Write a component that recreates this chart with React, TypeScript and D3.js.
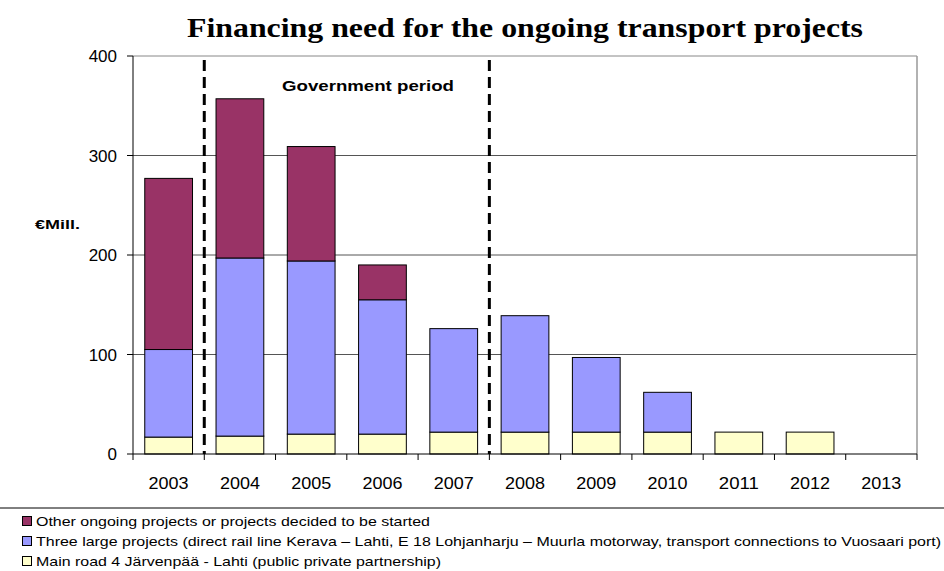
import React from "react";
import * as d3 from "d3";

const years = ["2003","2004","2005","2006","2007","2008","2009","2010","2011","2012","2013"];
const mainRoad = [17, 18, 20, 20, 22, 22, 22, 22, 22, 22, 0];
const threeLarge = [88, 179, 174, 135, 104, 117, 75, 40, 0, 0, 0];
const otherOngoing = [172, 160, 115, 35, 0, 0, 0, 0, 0, 0, 0];
const yTicks = [0, 100, 200, 300, 400];
const seriesNames = [
  "Other ongoing projects or projects decided to be started",
  "Three large projects (direct rail line Kerava – Lahti, E 18 Lohjanharju – Muurla motorway, transport connections to Vuosaari port)",
  "Main road 4 Järvenpää - Lahti (public private partnership)",
];
const periodYears = ["2004", "2008"];
const title = "Financing need for the ongoing transport projects";
const periodLabel = "Government period";
const unitLabel = "€Mill.";

const colors = { other: "#993366", three: "#9999FF", main: "#FFFFCC" };

export default function App() {
  const W = 944, H = 571;
  const left = 133, right = 917, top = 56, bottom = 454;
  const x = d3.scaleBand<string>().domain(years).range([left, right]).padding(0);
  const y = d3.scaleLinear().domain([0, 400]).range([bottom, top]);
  const bw = x.bandwidth() * 0.67;

  const stackData = years.map((yr, i) => ({ year: yr, main: mainRoad[i], three: threeLarge[i], other: otherOngoing[i] }));
  const stack = d3.stack<any>().keys(["main", "three", "other"]);
  const layers = stack(stackData);

  const font = "Arial, 'Liberation Sans', sans-serif";
  const legendColors = [colors.other, colors.three, colors.main];
  const legendLengths = [394, 905, 405];

  return (
    <svg width={W} height={H} style={{ position: "absolute", left: 0, top: 0, background: "#fff" }} fontFamily={font}>
      <text x={187} y={37} fontFamily="'Liberation Serif', 'Times New Roman', serif" fontWeight="bold" fontSize={27}
        textLength={676} lengthAdjust="spacingAndGlyphs">{title}</text>
      {/* gridlines */}
      {yTicks.filter(t => t > 0).map(t => (
        <line key={t} x1={left} x2={right} y1={y(t)} y2={y(t)} stroke={t === 400 ? "#888" : "#555"} strokeWidth={1} />
      ))}
      <line x1={right} x2={right} y1={top} y2={bottom} stroke="#999" strokeWidth={1.5} />
      {/* bars */}
      {layers.map(layer => (
        <g key={layer.key}>
          {layer.map((d, i) => {
            const h = y(d[0]) - y(d[1]);
            if (h <= 0) return null;
            return (
              <rect key={i} x={(x(years[i]) as number) + (x.bandwidth() - bw) / 2} y={y(d[1])} width={bw} height={h}
                fill={(colors as any)[layer.key]} stroke="#000" strokeWidth={1} />
            );
          })}
        </g>
      ))}
      {/* axes */}
      <line x1={left} x2={left} y1={top} y2={bottom} stroke="#000" strokeWidth={1} />
      <line x1={left} x2={right} y1={bottom} y2={bottom} stroke="#000" strokeWidth={1} />
      {yTicks.map(t => (
        <g key={t}>
          <line x1={left - 6} x2={left} y1={y(t)} y2={y(t)} stroke="#000" />
          <text x={117} y={y(t) + 6} textAnchor="end" fontSize={17}>{t}</text>
        </g>
      ))}
      {years.map(yr => (
        <g key={yr}>
          <line x1={x(yr) as number} x2={x(yr) as number} y1={bottom} y2={bottom + 6} stroke="#000" />
          <text x={(x(yr) as number) + x.bandwidth() / 2} y={489} textAnchor="middle" fontSize={17}
            textLength={40} lengthAdjust="spacingAndGlyphs">{yr}</text>
        </g>
      ))}
      <line x1={right} x2={right} y1={bottom} y2={bottom + 6} stroke="#000" />
      {/* period lines */}
      {periodYears.map(yr => (
        <line key={yr} x1={x(yr) as number} x2={x(yr) as number} y1={60} y2={bottom} stroke="#000" strokeWidth={3} strokeDasharray="11,6" />
      ))}
      <text x={282} y={91} fontWeight="bold" fontSize={15} textLength={172} lengthAdjust="spacingAndGlyphs">{periodLabel}</text>
      <text x={35} y={229} fontWeight="bold" fontSize={13} textLength={45} lengthAdjust="spacingAndGlyphs">{unitLabel}</text>
      {/* legend */}
      <line x1={0} x2={W} y1={508} y2={508} stroke="#000" strokeWidth={1} />
      {seriesNames.map((n, i) => (
        <g key={n}>
          <rect x={22.5} y={516.5 + i * 20} width={9} height={9} fill={legendColors[i]} stroke="#000" strokeWidth={1} />
          <text x={36} y={525.5 + i * 20} fontSize={13.5} textLength={legendLengths[i]} lengthAdjust="spacingAndGlyphs">{n}</text>
        </g>
      ))}
    </svg>
  );
}
